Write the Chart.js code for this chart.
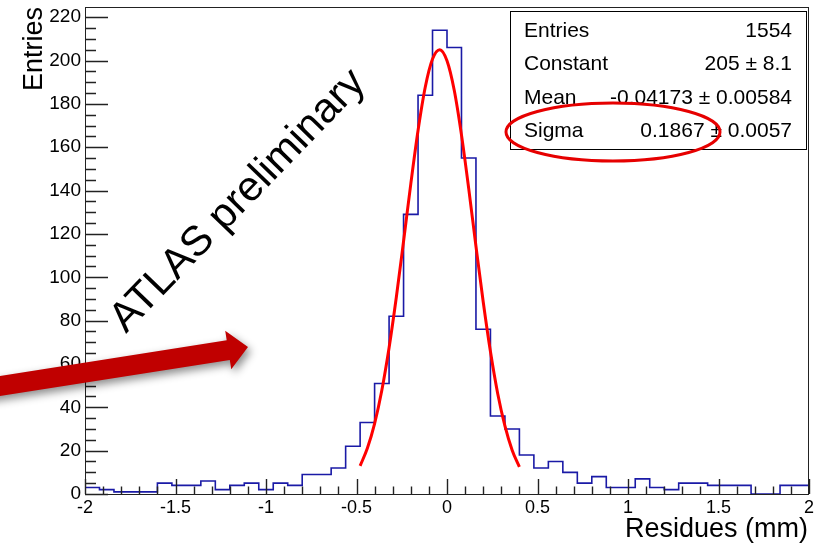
<!DOCTYPE html>
<html>
<head>
<meta charset="utf-8">
<script src="https://cdn.jsdelivr.net/npm/chart.js@4.4.1/dist/chart.umd.min.js"></script>
<style>
  html, body { margin: 0; padding: 0; background: #fff; }
  canvas { display: block; }
</style>
</head>
<body>
<canvas id="residChart" width="819" height="545"></canvas>
<script>
// histogram: 50 bins from -2 to 2
const binStart = -2;
const binWidth = 0.08;
const binCounts = [
  3, 2, 1, 1, 1, 5, 4, 4, 6, 2,
  4, 5, 2, 5, 4, 9, 9, 12, 22, 33,
  51, 82, 129, 184, 214, 206, 155, 76, 36, 30,
  18, 12, 15, 10, 5, 8, 3, 3, 7, 3,
  2, 5, 5, 4, 4, 4, 0, 0, 4, 4
];

// gaussian fit curve
const fitX = [-0.48, -0.44, -0.40, -0.36, -0.32, -0.28, -0.24, -0.20, -0.16, -0.12, -0.08, -0.04,
              0.00, 0.04, 0.08, 0.12, 0.16, 0.20, 0.24, 0.28, 0.32, 0.36, 0.40];
const fitY = [13.0, 21.1, 32.5, 47.9, 67.5, 90.8, 116.6, 143.1, 167.7, 187.8, 200.7, 205.0,
              199.9, 186.3, 165.7, 140.9, 114.3, 88.7, 65.7, 46.4, 31.4, 20.2, 12.5];

const xTickValues = [-2, -1.5, -1, -0.5, 0, 0.5, 1, 1.5, 2];
const yTickValues = [0, 20, 40, 60, 80, 100, 120, 140, 160, 180, 200, 220];

const statsNames = ['Entries', 'Constant', 'Mean', 'Sigma'];
const statsValues = ['1554', '205 \u00b1 8.1', '-0.04173 \u00b1 0.00584', '0.1867 \u00b1 0.0057'];

const FONT = '"Liberation Sans", Arial, Helvetica, sans-serif';

const histPoints = binCounts.map((c, i) => ({ x: binStart + binWidth * i, y: c }));
histPoints.push({ x: binStart + binWidth * binCounts.length, y: binCounts[binCounts.length - 1] });
const fitPoints = fitX.map((x, i) => ({ x: x, y: fitY[i] }));

// ROOT style frame with ticks pointing inwards
const frameTicks = {
  id: 'frameTicks',
  afterDatasetsDraw(chart) {
    const { ctx, chartArea: a, scales: { x, y } } = chart;
    ctx.save();
    ctx.strokeStyle = '#222';
    ctx.lineWidth = 1;
    ctx.strokeRect(a.left + 0.5, a.top + 0.5, a.right - a.left - 1, a.bottom - a.top);
    ctx.lineWidth = 1.4;
    ctx.beginPath();
    for (let v = 0; v <= y.max; v += 5) {
      const py = Math.round(y.getPixelForValue(v)) + 0.5;
      const len = v % 20 === 0 ? 23 : 11;
      ctx.moveTo(a.left, py);
      ctx.lineTo(a.left + len, py);
    }
    for (let k = -20; k <= 20; k++) {
      const px = Math.round(x.getPixelForValue(k / 10)) + 0.5;
      const len = k % 5 === 0 ? 15 : 7.5;
      ctx.moveTo(px, a.bottom);
      ctx.lineTo(px, a.bottom - len);
    }
    ctx.stroke();
    ctx.restore();
  }
};

function drawArrow(ctx) {
  ctx.save();
  ctx.translate(248, 347);
  ctx.rotate(Math.atan2(-39, 248));
  ctx.shadowColor = 'rgba(0,0,0,0.45)';
  ctx.shadowBlur = 8;
  ctx.shadowOffsetX = 3;
  ctx.shadowOffsetY = 4;
  ctx.fillStyle = '#c00000';
  ctx.beginPath();
  ctx.moveTo(0, 0);
  ctx.lineTo(-20, -19.5);
  ctx.lineTo(-20, -10);
  ctx.lineTo(-280, -10);
  ctx.lineTo(-280, 10);
  ctx.lineTo(-20, 10);
  ctx.lineTo(-20, 19.5);
  ctx.closePath();
  ctx.fill();
  ctx.restore();
}

const overlay = {
  id: 'overlay',
  afterDraw(chart) {
    const ctx = chart.ctx;
    ctx.save();
    ctx.fillStyle = '#000';

    // axis titles
    ctx.font = '27px ' + FONT;
    ctx.textAlign = 'right';
    ctx.textBaseline = 'alphabetic';
    ctx.fillText('Residues (mm)', 808, 537);
    ctx.save();
    ctx.translate(42, 7);
    ctx.rotate(-Math.PI / 2);
    ctx.fillText('Entries', 0, 0);
    ctx.restore();

    // stats box
    ctx.fillStyle = '#fff';
    ctx.fillRect(510.5, 11.5, 296, 138);
    ctx.strokeStyle = '#000';
    ctx.lineWidth = 1;
    ctx.strokeRect(510.5, 11.5, 296, 138);
    ctx.fillStyle = '#000';
    ctx.font = '21px ' + FONT;
    statsNames.forEach((n, i) => {
      const by = 37 + i * 33.3;
      ctx.textAlign = 'left';
      ctx.fillText(n, 524, by);
      ctx.textAlign = 'right';
      ctx.fillText(statsValues[i], 792, by);
    });

    // red ellipse around sigma
    ctx.strokeStyle = '#e60000';
    ctx.lineWidth = 3;
    ctx.beginPath();
    ctx.ellipse(613, 132, 107, 29, 0, 0, Math.PI * 2);
    ctx.stroke();

    // ATLAS preliminary
    ctx.save();
    ctx.translate(126, 334);
    ctx.rotate(-46 * Math.PI / 180);
    ctx.font = '42px ' + FONT;
    ctx.textAlign = 'left';
    ctx.fillStyle = '#000';
    ctx.fillText('ATLAS preliminary', 0, 0);
    ctx.restore();

    drawArrow(ctx);
    ctx.restore();
  }
};

const noPad = s => { s.paddingTop = 0; s.paddingBottom = 0; s.paddingLeft = 0; s.paddingRight = 0; };

const ctx = document.getElementById('residChart').getContext('2d');
new Chart(ctx, {
  type: 'line',
  data: {
    datasets: [
      {
        label: 'fit',
        data: fitPoints,
        borderColor: '#ff0000',
        borderWidth: 3,
        pointRadius: 0,
        fill: false,
        cubicInterpolationMode: 'monotone',
        order: 0
      },
      {
        label: 'residues',
        data: histPoints,
        stepped: 'before',
        borderColor: '#1a1aa6',
        borderWidth: 1.6,
        pointRadius: 0,
        fill: false,
        order: 1
      }
    ]
  },
  options: {
    responsive: false,
    animation: false,
    devicePixelRatio: 1,
    layout: { padding: { top: 7, right: 10, left: 0, bottom: 0 } },
    plugins: { legend: { display: false }, tooltip: { enabled: false } },
    scales: {
      x: {
        type: 'linear',
        min: -2,
        max: 2,
        grid: { display: false, drawTicks: false },
        border: { display: false },
        afterBuildTicks: s => { s.ticks = xTickValues.map(v => ({ value: v })); },
        ticks: {
          padding: 3,
          color: '#000',
          maxRotation: 0,
          autoSkip: false,
          font: { family: FONT, size: 18 },
          callback: v => String(v)
        },
        afterFit: s => { s.height = 51; noPad(s); }
      },
      y: {
        type: 'linear',
        min: 0,
        max: 224.7,
        grid: { display: false, drawTicks: false },
        border: { display: false },
        afterBuildTicks: s => { s.ticks = yTickValues.map(v => ({ value: v })); },
        ticks: {
          padding: 4,
          color: '#000',
          autoSkip: false,
          font: { family: FONT, size: 19 },
          callback: v => String(v)
        },
        afterFit: s => { s.width = 85; noPad(s); }
      }
    }
  },
  plugins: [frameTicks, overlay]
});
</script>
</body>
</html>
